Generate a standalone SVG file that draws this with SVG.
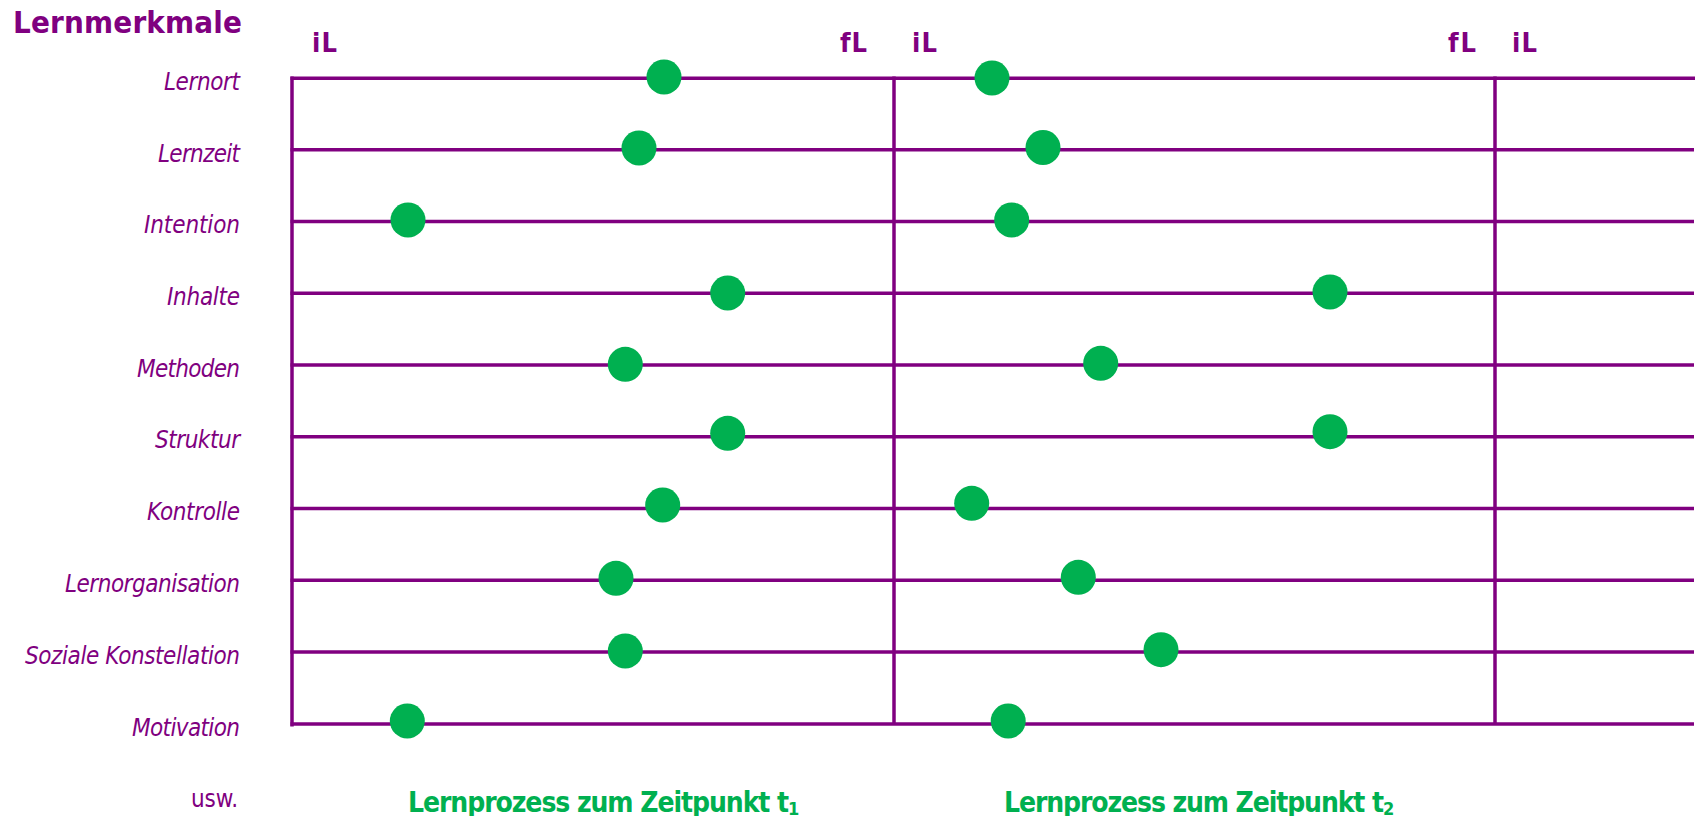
<svg xmlns="http://www.w3.org/2000/svg" width="1698" height="816" viewBox="0 0 1698 816">
  <style>
    .title { font-family: "DejaVu Sans Condensed", "DejaVu Sans", sans-serif; font-weight: bold; fill: #800080; }
    .label { font-family: "DejaVu Sans Condensed", "DejaVu Sans", sans-serif; font-style: italic; font-size: 24px; fill: #800080; }
    .mark { font-family: "DejaVu Sans Condensed", "DejaVu Sans", sans-serif; font-weight: bold; font-size: 27px; fill: #800080; }
    .caption { font-family: "DejaVu Sans Condensed", "DejaVu Sans", sans-serif; font-weight: bold; font-size: 28px; fill: #00B050; }
    .axis { stroke: #800080; stroke-width: 3.5; fill: none; }
    .dot { fill: #00B050; }
  </style>

  <rect width="1698" height="816" fill="#ffffff"/>

  <!-- heading -->
  <text class="title" x="13" y="33" font-size="31" textLength="229">Lernmerkmale</text>

  <!-- phase markers above the grid -->
  <g id="markers">
    <text class="mark" x="312" y="52" textLength="25">iL</text>
    <text class="mark" x="840" y="52" textLength="27">fL</text>
    <text class="mark" x="912" y="52" textLength="25">iL</text>
    <text class="mark" x="1448" y="52" textLength="28">fL</text>
    <text class="mark" x="1512" y="52" textLength="25">iL</text>
  </g>

  <!-- grid: one line per feature, three phase boundaries -->
  <g id="connectors">
    <path class="axis" d="M292 76.5 V726.5"/>
    <path class="axis" d="M894 76.5 V723.5"/>
    <path class="axis" d="M1495 76.5 V723.5"/>
    <path class="axis" d="M290.5 78.3 H1695"/>
    <path class="axis" d="M290.5 149.8 H1694"/>
    <path class="axis" d="M290.5 221.6 H1694"/>
    <path class="axis" d="M290.5 293.3 H1694"/>
    <path class="axis" d="M290.5 365 H1694"/>
    <path class="axis" d="M290.5 436.7 H1694"/>
    <path class="axis" d="M290.5 508.4 H1694"/>
    <path class="axis" d="M290.5 580.3 H1694"/>
    <path class="axis" d="M290.5 652 H1694"/>
    <path class="axis" d="M290.5 724 H1694"/>
  </g>

  <!-- features with their position in phase t1 and t2 -->
  <g id="lernort">
    <text class="label" x="240" y="90" text-anchor="end" textLength="76">Lernort</text>
    <circle class="dot" cx="664" cy="77" r="17.5"/>
    <circle class="dot" cx="992" cy="78" r="17.5"/>
  </g>
  <g id="lernzeit">
    <text class="label" x="240" y="161.5" text-anchor="end" textLength="82">Lernzeit</text>
    <circle class="dot" cx="639" cy="148" r="17.5"/>
    <circle class="dot" cx="1043" cy="147.5" r="17.5"/>
  </g>
  <g id="intention">
    <text class="label" x="240" y="233.3" text-anchor="end" textLength="96">Intention</text>
    <circle class="dot" cx="408" cy="220" r="17.5"/>
    <circle class="dot" cx="1011.7" cy="220" r="17.5"/>
  </g>
  <g id="inhalte">
    <text class="label" x="240" y="305" text-anchor="end" textLength="73">Inhalte</text>
    <circle class="dot" cx="727.7" cy="293" r="17.5"/>
    <circle class="dot" cx="1330" cy="292" r="17.5"/>
  </g>
  <g id="methoden">
    <text class="label" x="240" y="376.7" text-anchor="end" textLength="103">Methoden</text>
    <circle class="dot" cx="625.3" cy="364.3" r="17.5"/>
    <circle class="dot" cx="1100.7" cy="363.3" r="17.5"/>
  </g>
  <g id="struktur">
    <text class="label" x="240" y="448.4" text-anchor="end" textLength="85">Struktur</text>
    <circle class="dot" cx="727.7" cy="433.3" r="17.5"/>
    <circle class="dot" cx="1330" cy="431.7" r="17.5"/>
  </g>
  <g id="kontrolle">
    <text class="label" x="240" y="520" text-anchor="end" textLength="93">Kontrolle</text>
    <circle class="dot" cx="662.7" cy="505" r="17.5"/>
    <circle class="dot" cx="971.7" cy="503.3" r="17.5"/>
  </g>
  <g id="lernorganisation">
    <text class="label" x="240" y="592" text-anchor="end" textLength="175">Lernorganisation</text>
    <circle class="dot" cx="616" cy="578.3" r="17.5"/>
    <circle class="dot" cx="1078.3" cy="577.3" r="17.5"/>
  </g>
  <g id="soziale-konstellation">
    <text class="label" x="240" y="663.7" text-anchor="end" textLength="215">Soziale Konstellation</text>
    <circle class="dot" cx="625.3" cy="651" r="17.5"/>
    <circle class="dot" cx="1161" cy="649.7" r="17.5"/>
  </g>
  <g id="motivation">
    <text class="label" x="240" y="735.5" text-anchor="end" textLength="108">Motivation</text>
    <circle class="dot" cx="407.3" cy="721" r="17.5"/>
    <circle class="dot" cx="1008.2" cy="721" r="17.5"/>
  </g>

  <!-- footer -->
  <text x="238" y="807" text-anchor="end" font-family="'DejaVu Sans Condensed', 'DejaVu Sans', sans-serif" font-size="24" fill="#800080" textLength="47">usw.</text>

  <g id="phase-t1">
    <text class="caption" x="408" y="811.5"><tspan textLength="381">Lernprozess zum Zeitpunkt t</tspan><tspan font-size="18" dy="3">1</tspan></text>
  </g>
  <g id="phase-t2">
    <text class="caption" x="1004" y="811.5"><tspan textLength="380">Lernprozess zum Zeitpunkt t</tspan><tspan font-size="18" dy="3">2</tspan></text>
  </g>
</svg>
